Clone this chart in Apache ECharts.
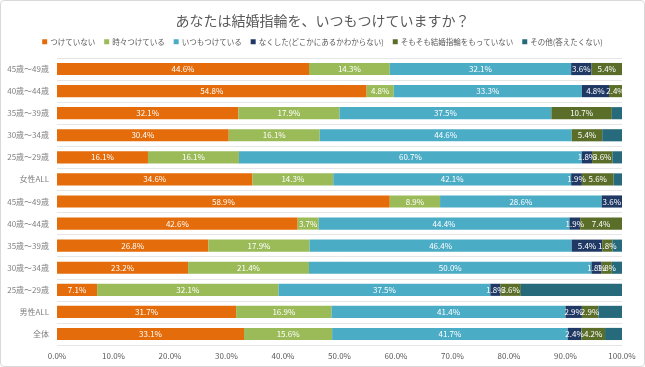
<!DOCTYPE html>
<html><head><meta charset="utf-8">
<script src="https://cdn.jsdelivr.net/npm/echarts@6/dist/echarts.min.js"></script>
<style>html,body{margin:0;padding:0;background:#fff;}#c{width:645px;height:367px;box-sizing:border-box;border:1px solid #d9d9d9;border-radius:4px;}</style>
</head><body><div id="c"></div>
<script>
const categories = ['45歳～49歳','40歳～44歳','35歳～39歳','30歳～34歳','25歳～29歳','女性ALL','45歳～49歳','40歳～44歳','35歳～39歳','30歳～34歳','25歳～29歳','男性ALL','全体'];
const seriesNames = ['つけていない','時々つけている','いつもつけている','なくした(どこかにあるかわからない)','そもそも結婚指輪をもっていない','その他(答えたくない)'];
const neverWear   = [44.6, 54.8, 32.1, 30.4, 16.1, 34.6, 58.9, 42.6, 26.8, 23.2, 7.1, 31.7, 33.1];
const sometimes   = [14.3, 4.8, 17.9, 16.1, 16.1, 14.3, 8.9, 3.7, 17.9, 21.4, 32.1, 16.9, 15.6];
const always      = [32.1, 33.3, 37.5, 44.6, 60.7, 42.1, 28.6, 44.4, 46.4, 50.0, 37.5, 41.4, 41.7];
const lost        = [3.6, 4.8, 0, 0, 1.8, 1.9, 3.6, 1.9, 5.4, 1.8, 1.8, 2.9, 2.4];
const noRing      = [5.4, 2.4, 10.7, 5.4, 3.6, 5.6, 0, 7.4, 1.8, 1.8, 3.6, 2.9, 4.2];
const other       = [0, 0, 1.8, 3.5, 1.7, 1.5, 0, 0, 1.7, 1.8, 17.9, 4.2, 3.0];
const xTicks = [0,10,20,30,40,50,60,70,80,90,100];
const colors = ['#E46C0A','#9BBB59','#4BACC6','#1F3864','#5A6E2A','#276A7C'];
const values = [neverWear, sometimes, always, lost, noRing, other];

const chart = echarts.init(document.getElementById('c'));
const font = "'Noto Sans CJK JP', sans-serif";
chart.setOption({
  animation:false,
  textStyle:{fontFamily:font},
  title:{text:'あなたは結婚指輪を、いつもつけていますか？',left:'center',top:8,
    textStyle:{fontSize:14,fontWeight:'normal',color:'#595959',fontFamily:font}},
  legend:{top:32,left:'center',itemWidth:5,itemHeight:5,itemGap:9,icon:'rect',
    textStyle:{fontSize:7.5,color:'#595959',fontFamily:font,padding:[0,0,0,-2]}},
  grid:{left:56,right:22,top:57,bottom:21,containLabel:false},
  xAxis:{type:'value',min:xTicks[0],max:xTicks[xTicks.length-1],interval:10,
    axisLabel:{formatter:v=>v.toFixed(1)+'%',fontSize:8,color:'#595959',margin:7},
    splitLine:{show:false},axisLine:{show:false},axisTick:{show:false}},
  yAxis:{type:'category',data:categories,inverse:true,
    axisLabel:{fontSize:8,color:'#7f7f7f',margin:8},
    axisLine:{show:false},axisTick:{show:false},
    splitLine:{show:true,lineStyle:{color:'#e6e6e6',width:1}}},
  series: seriesNames.map((n,i)=>({
    name:n,type:'bar',stack:'a',barWidth:'55%',
    itemStyle:{color:colors[i]},
    data: values[i].map(v=>v===0?null:v),
    label:{show:i<5,position:'inside',color:'#fff',fontSize:8,
      formatter:p=>p.value? p.value.toFixed(1)+'%':''}
  }))
});
</script></body></html>
